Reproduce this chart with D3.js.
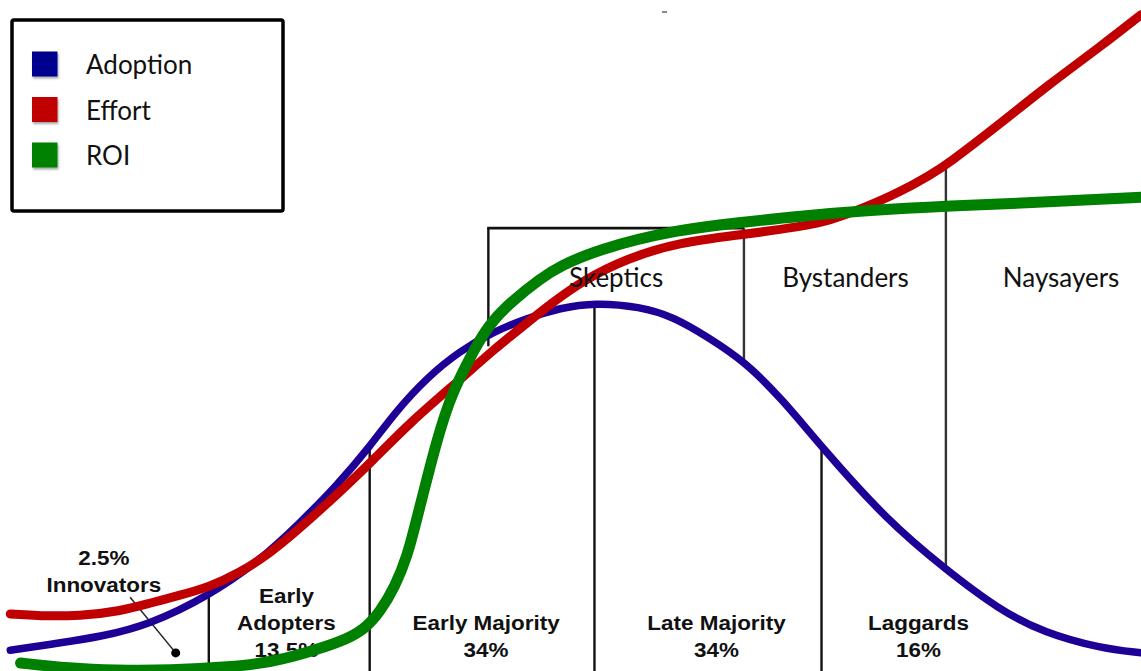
<!DOCTYPE html>
<html>
<head>
<meta charset="utf-8">
<script src="https://cdn.jsdelivr.net/npm/d3@7"></script>
<style>
  html, body { margin: 0; padding: 0; background: #fff; }
  svg { display: block; }
  .seg { font-family: "Liberation Sans", Arial, sans-serif; font-weight: 700; font-size: 21px; fill: #111; }
  .grp { font-family: Lato, "Open Sans", sans-serif; font-size: 26px; fill: #111; }
</style>
</head>
<body>
<div id="chart"></div>
<script>
// --- data (x: time 0..100, y: level 0..100) ---------------------------------
const ADOPTION = [
  [0.9, 3.1], [5.3, 4.2], [8.8, 5.1], [13.1, 6.9], [18.3, 11.2], [22.8, 16.5],
  [26.3, 22.1], [29.5, 27.6], [32.4, 33.4], [34.6, 38.5], [37.4, 43.7], [40.3, 47.7],
  [43.2, 50.5], [46.2, 52.6], [49.1, 54.1], [52.1, 54.9], [56.1, 54.3], [59.0, 52.8],
  [62.0, 49.8], [65.3, 46.1], [68.6, 40.4], [72.0, 33.4], [77.7, 22.5], [82.9, 15.1],
  [87.6, 9.1], [91.5, 5.7], [96.4, 3.4], [100, 2.7]
];
const EFFORT = [
  [0.9, 8.5], [3.5, 8.2], [7.0, 8.2], [10.5, 8.9], [13.1, 10.1], [15.8, 11.3],
  [18.3, 12.5], [21.0, 14.6], [23.7, 17.6], [26.3, 21.3], [29.8, 26.7], [32.7, 31.4],
  [35.9, 37.0], [40.3, 43.4], [43.2, 47.8], [46.2, 51.9], [48.5, 55.0], [51.0, 58.1],
  [54.9, 61.5], [59.6, 63.9], [64.9, 65.0], [70.1, 66.2], [72.7, 67.1], [75.7, 69.0],
  [78.9, 71.4], [81.5, 73.9], [83.1, 75.6], [87.6, 81.5], [92.0, 87.5], [96.4, 93.0],
  [100, 97.8]
];
const ROI = [
  [1.8, 1.2], [6.1, 0.4], [10.1, 0.1], [14.9, 0.1], [20.2, 0.6], [23.7, 1.3],
  [26.8, 2.7], [29.8, 4.3], [31.9, 6.1], [33.3, 8.8], [34.6, 12.5], [35.7, 17.1],
  [36.5, 22.5], [37.4, 28.5], [38.3, 34.4], [39.4, 40.4], [40.5, 44.4], [41.9, 49.0],
  [43.2, 52.3], [45.0, 55.3], [47.3, 58.4], [49.1, 60.4], [52.6, 62.9], [58.7, 65.6],
  [65.2, 66.9], [70.1, 67.8], [75.7, 68.6], [83.1, 69.3], [92.0, 69.9], [100, 70.6]
];

// vertical dividers: x, top level, bottom level
const DIVIDERS = [
  [18.3, 11.0, 0], [32.4, 33.4, 0], [52.1, 54.6, 0], [72.0, 33.4, 0],
  [42.8, 66.0, 48.4], [65.2, 66.0, 46.1], [82.9, 75.1, 15.1]
];
const BOX_TOP = { x0: 42.8, x1: 65.2, y: 66.0 };

// adopter segments (bold labels under the curve)
const SEGMENTS = [
  { x: 9.1,  y: 15.8, lines: ['2.5%', 'Innovators'] },
  { x: 25.1, y: 10.1, lines: ['Early', 'Adopters', '13.5%'] },
  { x: 42.6, y: 6.1,  lines: ['Early Majority', '34%'] },
  { x: 62.8, y: 6.1,  lines: ['Late Majority', '34%'] },
  { x: 80.5, y: 6.1,  lines: ['Laggards', '16%'] }
];
const GROUPS = [
  { x: 54.0, y: 57.2, text: 'Skeptics' },
  { x: 74.1, y: 57.2, text: 'Bystanders' },
  { x: 93.0, y: 57.2, text: 'Naysayers' }
];
const POINTER = { from: [11.4, 11.0], to: [15.4, 2.7] };

const SERIES = ['Adoption', 'Effort', 'ROI'];
const CURVE_COLORS = ['#1e0096', '#c00000', '#008000'];
const KEY_COLORS = ['#00008f', '#c00000', '#008000'];

// --- drawing ------------------------------------------------------------------
const W = 1141, H = 671;
const svg = d3.select('#chart').append('svg').attr('width', W).attr('height', H);

const defs = svg.append('defs');
const sh = defs.append('filter').attr('id', 'shadow').attr('x', '-30%').attr('y', '-30%')
  .attr('width', '160%').attr('height', '160%');
sh.append('feDropShadow').attr('dx', 1).attr('dy', 2).attr('stdDeviation', 1.2)
  .attr('flood-color', '#000').attr('flood-opacity', 0.35);

const x = d3.scaleLinear().domain([0, 100]).range([0, W]);
const y = d3.scaleLinear().domain([0, 100]).range([H, 0]);

// segment labels sit below the curves
const segG = svg.append('g');
SEGMENTS.forEach(s => {
  s.lines.forEach((t, i) => {
    segG.append('text').attr('class', 'seg')
      .attr('text-anchor', 'middle')
      .attr('transform', `translate(${x(s.x)},${y(s.y) + i * 27}) scale(1.07,1)`)
      .text(t);
  });
});

// pointer to innovators
svg.append('line')
  .attr('x1', x(POINTER.from[0])).attr('y1', y(POINTER.from[1]))
  .attr('x2', x(POINTER.to[0])).attr('y2', y(POINTER.to[1]))
  .attr('stroke', '#222').attr('stroke-width', 1.5);
svg.append('circle')
  .attr('cx', x(POINTER.to[0])).attr('cy', y(POINTER.to[1])).attr('r', 4.5)
  .attr('fill', '#000');

// dividers
svg.append('g').selectAll('line').data(DIVIDERS).join('line')
  .attr('x1', d => x(d[0])).attr('x2', d => x(d[0]))
  .attr('y1', d => y(d[1])).attr('y2', d => y(d[2]))
  .attr('stroke', (d, i) => i >= 5 ? '#333' : '#111')
  .attr('stroke-width', 2.4);
svg.append('line')
  .attr('x1', x(BOX_TOP.x0) - 1.2).attr('x2', x(BOX_TOP.x1))
  .attr('y1', y(BOX_TOP.y)).attr('y2', y(BOX_TOP.y))
  .attr('stroke', '#111').attr('stroke-width', 2.6);

// curves: adoption, effort, roi (roi on top)
const line = d3.line().curve(d3.curveBasis).x(d => x(d[0])).y(d => y(d[1]));
const widths = [7.5, 9, 11];
[ADOPTION, EFFORT, ROI].forEach((pts, i) => {
  svg.append('path').datum(pts)
    .attr('fill', 'none')
    .attr('stroke', CURVE_COLORS[i])
    .attr('stroke-width', widths[i])
    .attr('stroke-linecap', 'round')
    .attr('d', line);
});

// group labels above
svg.append('g').selectAll('text').data(GROUPS).join('text')
  .attr('class', 'grp').attr('text-anchor', 'middle')
  .attr('x', d => x(d.x)).attr('y', d => y(d.y))
  .text(d => d.text);

// stray mark at top
svg.append('line').attr('x1', 662).attr('x2', 667).attr('y1', 12).attr('y2', 12)
  .attr('stroke', '#666').attr('stroke-width', 1.5);

// legend
const lg = svg.append('g');
lg.append('rect').attr('x', 12).attr('y', 20).attr('width', 271).attr('height', 191)
  .attr('rx', 2).attr('fill', '#fff').attr('stroke', '#000').attr('stroke-width', 3.5);
SERIES.forEach((name, i) => {
  const cy = 64 + i * 45.5;
  lg.append('rect').attr('x', 32).attr('y', cy - 12.5).attr('width', 25.5).attr('height', 25)
    .attr('fill', KEY_COLORS[i]).attr('filter', 'url(#shadow)');
  lg.append('text').attr('class', 'grp')
    .attr('x', 86).attr('y', cy + 10)
    .text(name);
});
</script>
</body>
</html>
